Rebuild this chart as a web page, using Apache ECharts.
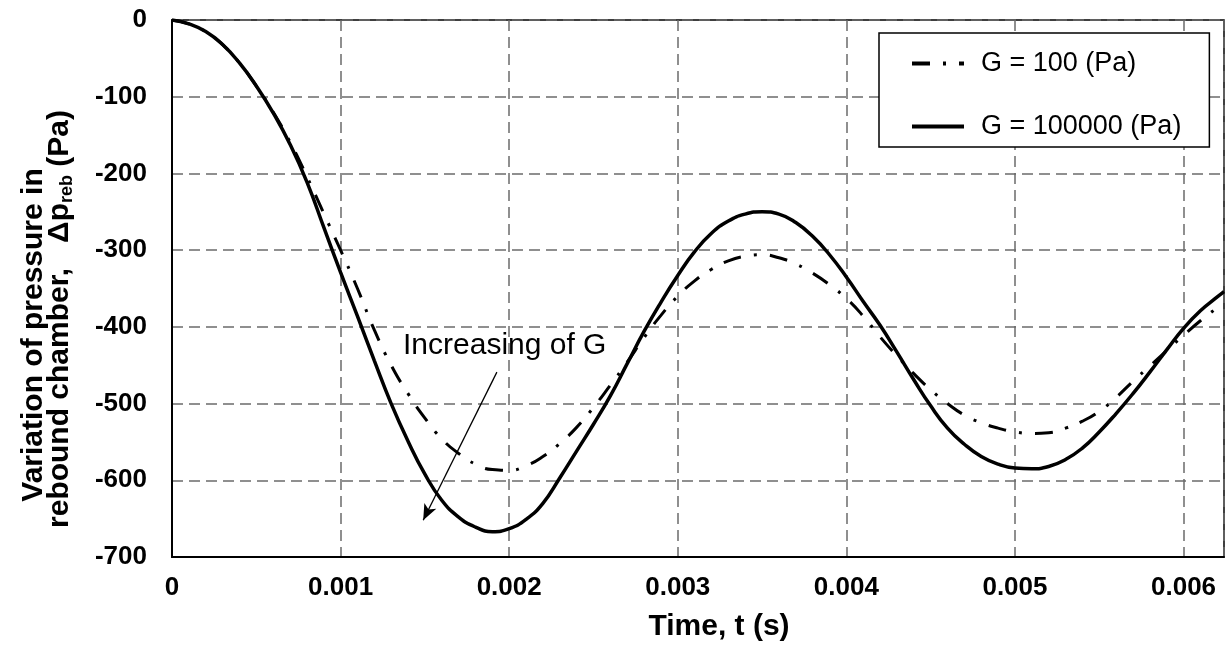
<!DOCTYPE html>
<html>
<head>
<meta charset="utf-8">
<script src="https://cdn.jsdelivr.net/npm/echarts@6/dist/echarts.min.js"></script>
<style>
html,body{margin:0;padding:0;background:#fff;}
#chart{width:1227px;height:648px;}
</style>
</head>
<body>
<div id="chart"></div>
<script>
// ---- data ----
const seriesNames = ['G = 100 (Pa)', 'G = 100000 (Pa)'];
const timeS = [0, 0.0001, 0.0002, 0.0003, 0.0004, 0.0005, 0.0006, 0.0007, 0.0008, 0.0009,
  0.001, 0.0011, 0.0012, 0.0013, 0.0014, 0.0015, 0.0016, 0.0017, 0.0018, 0.0019,
  0.002, 0.0021, 0.0022, 0.0023, 0.0024, 0.0025, 0.0026, 0.0027, 0.0028, 0.0029,
  0.003, 0.0031, 0.0032, 0.0033, 0.0034, 0.0035, 0.0036, 0.0037, 0.0038, 0.0039,
  0.004, 0.0041, 0.0042, 0.0043, 0.0044, 0.0045, 0.0046, 0.0047, 0.0048, 0.0049,
  0.005, 0.0051, 0.0052, 0.0053, 0.0054, 0.0055, 0.0056, 0.0057, 0.0058, 0.0059,
  0.006, 0.0061, 0.0062, 0.00624];
const presG100 = [0, -5, -15, -32, -56, -86, -120, -159, -204, -252,
  -300, -350, -404, -450, -487, -519, -546, -565, -579, -586,
  -587, -581, -569, -552, -531, -505, -476, -446, -414, -385,
  -360, -340, -325, -314, -308, -306, -310, -318, -330, -345,
  -363, -386, -413, -438, -461, -482, -500, -515, -525, -532,
  -537, -539, -538, -532, -523, -510, -492, -471, -451, -431,
  -411, -392, -375, -368];
const presG100000 = [0, -5, -15, -32, -56, -86, -121, -162, -211, -270,
  -329, -386, -444, -500, -549, -592, -626, -648, -661, -667,
  -663, -651, -630, -597, -562, -527, -490, -448, -406, -368,
  -333, -302, -278, -262, -253, -250, -253, -264, -282, -306,
  -335, -367, -398, -433, -469, -503, -532, -553, -569, -579,
  -584, -585, -582, -573, -558, -537, -513, -487, -459, -430,
  -402, -379, -361, -354];
const xTicks = [0, 0.001, 0.002, 0.003, 0.004, 0.005, 0.006];
const yTicks = [0, -100, -200, -300, -400, -500, -600, -700];
const arrowStart = [0.001927, -459];
const arrowEnd = [0.00149, -652];
const annotationText = 'Increasing of G';

function pairs(xs, ys) { return xs.map((x, i) => [x, ys[i]]); }

const chart = echarts.init(document.getElementById('chart'), null, {renderer: 'canvas'});
const font = 'Liberation Sans, Arial, sans-serif';

chart.setOption({
  animation: false,
  backgroundColor: '#fff',
  textStyle: {fontFamily: font, color: '#000'},
  grid: {left: 172, top: 20, right: 3, bottom: 91, show: true, borderColor: '#000', borderWidth: 1.5, backgroundColor: 'transparent'},
  legend: {
    left: 879, top: 33, orient: 'vertical',
    data: seriesNames,
    backgroundColor: '#fff', borderColor: '#000', borderWidth: 1.5, borderRadius: 0,
    padding: [17, 28, 7, 31], itemGap: 36, itemWidth: 52, itemHeight: 14,
    itemStyle: {opacity: 0},
    lineStyle: {width: 4},
    textStyle: {fontSize: 27, fontFamily: font, color: '#000', padding: [0, 0, 0, 12]},
    selectedMode: false
  },
  xAxis: {
    type: 'value', min: 0, max: 0.00624, interval: 0.001,
    name: 'Time, t (s)', nameLocation: 'middle', nameGap: 55,
    nameTextStyle: {fontSize: 30, fontWeight: 'bold', fontFamily: font, color: '#000', padding: [0, 0, 0, 42]},
    axisLine: {show: true, onZero: false, lineStyle: {color: '#000', width: 2}},
    axisTick: {show: false},
    axisLabel: {fontSize: 26, fontWeight: 'bold', fontFamily: font, color: '#000', margin: 18, showMaxLabel: false,
      formatter: v => { const t = xTicks.find(k => Math.abs(k - v) < 1e-9); return t === undefined ? '' : String(t); }},
    splitLine: {show: true, lineStyle: {color: '#6b6b6b', width: 1.5, type: [11, 6]}}
  },
  yAxis: {
    type: 'value', min: -700, max: 0, interval: 100,
    name: '{l1|Variation of pressure in}\n{l2|rebound chamber,   Δp}{sub|reb}{l3| (Pa)}',
    nameLocation: 'middle', nameRotate: 90, nameGap: 99,
    nameTextStyle: {
      fontFamily: font, color: '#000',
      rich: {
        l1: {fontSize: 30, fontWeight: 'bold', fontFamily: font, color: '#000', lineHeight: 26, align: 'center', padding: [0, 93, 0, 0]},
        l2: {fontSize: 30, fontWeight: 'bold', fontFamily: font, color: '#000', lineHeight: 26, align: 'center'},
        sub: {fontSize: 18, fontWeight: 'bold', fontFamily: font, color: '#000', lineHeight: 12, align: 'center', padding: [14, 0, 0, 0]},
        l3: {fontSize: 30, fontWeight: 'bold', fontFamily: font, color: '#000', lineHeight: 26, align: 'center', padding: [0, 61, 0, 0]}
      }
    },
    axisLine: {show: true, onZero: false, lineStyle: {color: '#000', width: 2}},
    axisTick: {show: false},
    axisLabel: {fontSize: 26, fontWeight: 'bold', fontFamily: font, color: '#000', margin: 25,
      formatter: v => { const t = yTicks.find(k => Math.abs(k - v) < 1e-9); return t === undefined ? '' : String(t); }},
    splitLine: {show: true, lineStyle: {color: '#6b6b6b', width: 1.5, type: [11, 6]}}
  },
  series: [
    {
      name: seriesNames[0], type: 'line', data: pairs(timeS, presG100),
      smooth: 0.5, showSymbol: false, symbol: 'none', z: 3,
      lineStyle: {color: '#000', width: 3, type: [18, 13, 3, 13], cap: 'butt'},
      itemStyle: {color: '#000'}
    },
    {
      name: seriesNames[1], type: 'line', data: pairs(timeS, presG100000),
      smooth: 0.5, showSymbol: false, symbol: 'none', z: 4,
      lineStyle: {color: '#000', width: 3.5, type: 'solid'},
      itemStyle: {color: '#000'},
      markLine: {
        silent: true, animation: false,
        symbol: ['none', 'arrow'], symbolSize: [10, 16],
        lineStyle: {color: '#000', width: 1.3, type: 'solid'},
        label: {show: false},
        data: [[{coord: arrowStart}, {coord: arrowEnd}]]
      }
    }
  ],
  graphic: [
    {type: 'text', left: 403, top: 331, z: 10,
     style: {text: annotationText, font: 'normal 30px ' + font, fill: '#000'}}
  ]
});
</script>
</body>
</html>
